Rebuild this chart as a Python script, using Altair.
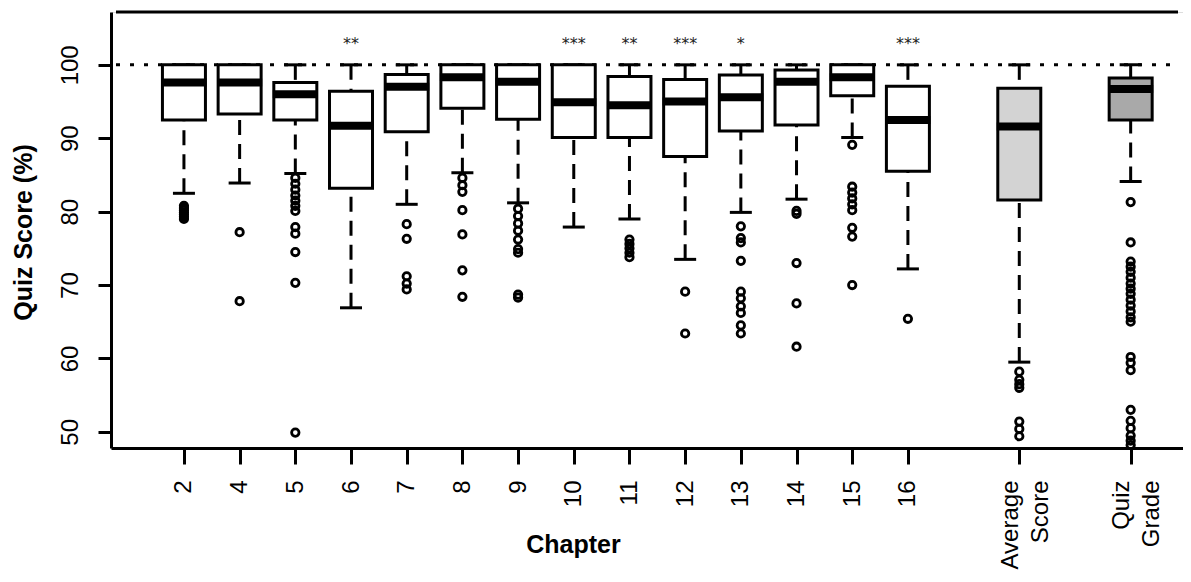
import json
import altair as alt
import pandas as pd

# ---------------- data ----------------
categories = ["2", "4", "5", "6", "7", "8", "9", "10", "11", "12", "13", "14", "15", "16",
              "Average\nScore", "Quiz\nGrade"]
groups = ["chapter"] * 14 + ["average", "quiz"]

whisker_low = [82.5, 83.9, 85.2, 66.9, 81.0, 85.3, 81.2, 77.9, 79.0, 73.5, 79.9, 81.7, 90.1, 72.2, 59.5, 84.1]
q1 = [92.5, 93.3, 92.5, 83.2, 90.9, 94.1, 92.6, 90.1, 90.1, 87.5, 91.0, 91.8, 95.8, 85.5, 81.6, 92.5]
median = [97.6, 97.6, 96.0, 91.7, 97.0, 98.3, 97.7, 94.9, 94.5, 95.0, 95.6, 97.7, 98.3, 92.5, 91.6, 96.7]
q3 = [100, 100, 97.6, 96.4, 98.7, 100, 100, 100, 98.4, 98.0, 98.6, 99.3, 100, 97.1, 96.8, 98.2]
whisker_high = [100, 100, 100, 100, 100, 100, 100, 100, 100, 100, 100, 100, 100, 100, 100, 100]

significance = ["", "", "", "**", "", "", "", "***", "**", "***", "*", "", "", "***", "", ""]

outliers = [
    [80.8, 80.5, 80.2, 79.9, 79.6, 79.3, 79.0],                       # 2
    [77.2, 67.8],                                                     # 4
    [84.6, 83.8, 83.0, 82.2, 81.5, 80.8, 80.1, 77.9, 77.0, 74.5, 70.3, 49.9],  # 5
    [],                                                               # 6
    [78.3, 76.3, 71.2, 70.2, 69.4],                                   # 7
    [84.6, 83.6, 82.7, 80.2, 76.9, 72.0, 68.4],                       # 8
    [80.4, 79.4, 78.4, 77.4, 76.2, 74.9, 74.4, 68.7, 68.3],           # 9
    [],                                                               # 10
    [76.2, 75.6, 75.0, 74.4, 73.8],                                   # 11
    [69.1, 63.4],                                                     # 12
    [78.0, 76.4, 75.8, 73.3, 69.1, 68.2, 67.1, 66.2, 64.5, 63.4],     # 13
    [80.1, 79.7, 73.0, 67.5, 61.6],                                   # 14
    [89.1, 83.4, 82.6, 81.8, 81.0, 80.2, 77.8, 76.6, 70.0],           # 15
    [65.4],                                                           # 16
    [58.2, 57.1, 56.5, 56.0, 51.4, 50.4, 49.4],                       # Average Score
    [81.3, 75.8, 73.2, 72.5, 71.8, 71.0, 70.2, 69.5, 68.8, 68.0, 67.2, 66.4,
     65.6, 65.0, 60.2, 59.4, 58.4, 53.0, 51.5, 50.5, 49.5, 48.8, 48.2],  # Quiz Grade
]

y_ticks = [50, 60, 70, 80, 90, 100]
reference_score = 100
star_level = 102.9

# ---------------- layout ----------------
positions = list(range(1, 15)) + [16, 18]
X_MIN, X_MAX = -0.22, 18.85
Y_MIN, Y_MAX = 47.8, 107.2
FONT = "Liberation Sans, Arial, sans-serif"

box_df = pd.DataFrame({
    "pos": positions, "cat": categories, "group": groups,
    "lo": whisker_low, "q1": q1, "median": median, "q3": q3, "hi": whisker_high,
    "stars": significance,
})
box_df["star_y"] = star_level

out_rows = []
for p, vals in zip(positions, outliers):
    for v in vals:
        out_rows.append({"pos": p, "value": v})
out_df = pd.DataFrame(out_rows)

label_lookup = [""] * (max(positions) + 2)
for p, c in zip(positions, categories):
    label_lookup[p] = c
label_expr = "split(" + json.dumps(label_lookup) + "[datum.value], '\\n')"
multi_line_test = "indexof(" + json.dumps(label_lookup) + "[datum.value], '\\n') >= 0"

x_scale = alt.Scale(domain=[X_MIN, X_MAX], nice=False, zero=False)
y_scale = alt.Scale(domain=[Y_MIN, Y_MAX], nice=False, zero=False)

x_axis = alt.Axis(
    values=positions, labelExpr=label_expr, labelAngle=270, labelAlign="right",
    labelBaseline="middle", labelFont=FONT, labelFontSize=24, labelColor="black",
    labelPadding=16, labelLineHeight=30, labelOverlap=False, labelFlush=False,
    labelOffset={"condition": {"test": multi_line_test, "value": -9}, "value": 0},
    tickSize=16, tickWidth=3, tickColor="black", domainColor="black", domainWidth=3,
    grid=False, titleFont=FONT, titleFontSize=25, titleFontWeight="bold",
    titleColor="black", titleX=462, titleY=104, titleBaseline="alphabetic",
    titleAlign="center",
)
y_axis = alt.Axis(
    values=y_ticks, labelAngle=270, labelAlign="center", labelBaseline="bottom",
    labelFont=FONT, labelFontSize=24, labelColor="black", labelPadding=16,
    labelOverlap=False, labelFlush=False,
    tickSize=13, tickWidth=3, tickColor="black", domainColor="black", domainWidth=3,
    grid=False, titleFont=FONT, titleFontSize=25, titleFontWeight="bold",
    titleColor="black", titleAngle=270, titleAlign="center",
    titleBaseline="alphabetic", titleX=-80, titleY=220,
)


def X(field="pos"):
    return alt.X(f"{field}:Q", scale=x_scale, axis=x_axis, title="Chapter")


def Y(field):
    return alt.Y(f"{field}:Q", scale=y_scale, axis=y_axis, title="Quiz Score (%)")


# ---------------- layers ----------------
top_border = alt.Chart().mark_rule(color="black", strokeWidth=3).encode(
    x=alt.X(datum=X_MIN, type="quantitative", scale=x_scale, axis=x_axis, title="Chapter"),
    x2=alt.X2(datum=X_MAX),
    y=alt.Y(datum=Y_MAX, type="quantitative", scale=y_scale, axis=y_axis, title="Quiz Score (%)"),
)

ref_line = alt.Chart().mark_rule(color="black", strokeWidth=3, strokeDash=[4, 10]).encode(
    x=alt.X(datum=X_MIN, type="quantitative", scale=x_scale, axis=x_axis, title="Chapter"),
    x2=alt.X2(datum=X_MAX),
    y=alt.Y(datum=reference_score, type="quantitative", scale=y_scale, axis=y_axis,
            title="Quiz Score (%)"),
)

base = alt.Chart(box_df)

upper_whisker = base.mark_rule(color="black", strokeWidth=3, strokeDash=[15, 9]).encode(
    x=X(), y=Y("hi"), y2="q3:Q")
lower_whisker = base.mark_rule(color="black", strokeWidth=3, strokeDash=[15, 9]).encode(
    x=X(), y=Y("lo"), y2="q1:Q")

upper_cap = base.mark_tick(orient="horizontal", size=22, thickness=3, color="black",
                           opacity=1).encode(x=X(), y=Y("hi"))
lower_cap = base.mark_tick(orient="horizontal", size=22, thickness=3, color="black",
                           opacity=1).encode(x=X(), y=Y("lo"))

boxes = base.mark_bar(size=43, stroke="black", strokeWidth=3, opacity=1).encode(
    x=X(), y=Y("q1"), y2="q3:Q",
    fill=alt.Fill("group:N", scale=alt.Scale(domain=["chapter", "average", "quiz"],
                                             range=["#ffffff", "#d3d3d3", "#a9a9a9"]),
                  legend=None),
)

medians = base.mark_tick(orient="horizontal", size=45, thickness=8, color="black",
                         opacity=1).encode(x=X(), y=Y("median"))

points = alt.Chart(out_df).mark_point(shape="circle", filled=False, size=55, strokeWidth=2.8,
                                      color="black", opacity=1, clip=True).encode(
    x=X(), y=Y("value"))

stars = base.mark_text(font="DejaVu Sans", fontSize=16, color="#222222",
                       baseline="middle", align="center").encode(
    x=X(), y=Y("star_y"), text="stars:N")

chart = alt.layer(
    ref_line, top_border, upper_whisker, lower_whisker, upper_cap, lower_cap,
    boxes, medians, points, stars,
).properties(
    width=1072, height=436,
    padding={"left": 103, "top": 4, "right": 0, "bottom": 122},
    autosize=alt.AutoSizeParams(type="none"),
).configure_view(stroke=None).configure(background="white")

chart.save("out.html", embed_options={"renderer": "svg", "actions": False})
